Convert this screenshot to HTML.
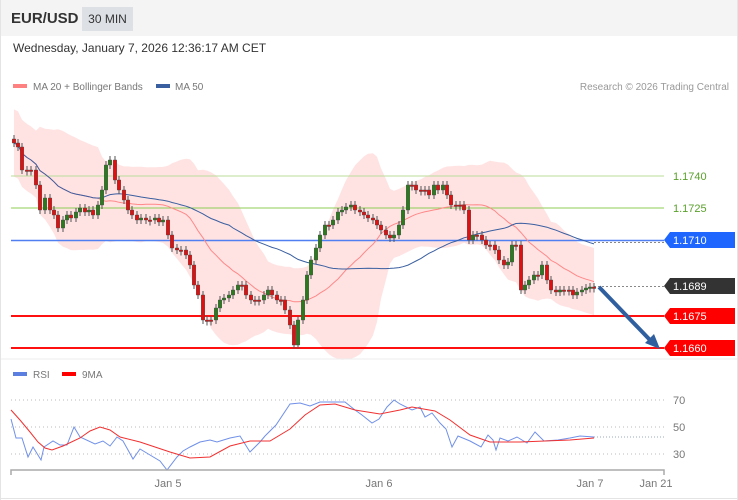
<!DOCTYPE html>
<html><head><meta charset="utf-8"><style>
body{margin:0;width:738px;height:500px;background:#fff;font-family:"Liberation Sans",sans-serif;overflow:hidden;position:relative}
#hdr{position:absolute;left:0;top:0;width:738px;height:36px;background:#f4f4f4}
.t{position:absolute;white-space:nowrap}
</style></head><body>
<div id="hdr"></div>
<div class="t" style="left:11px;top:10px;font-size:15px;font-weight:bold;color:#333">EUR/USD</div>
<div class="t" style="left:82px;top:7px;width:51px;height:24px;background:#dde0e5;font-size:12px;color:#333;line-height:24px;text-align:center">30 MIN</div>
<div class="t" style="left:13px;top:41px;font-size:12px;color:#333">Wednesday, January 7, 2026 12:36:17 AM CET</div>
<svg id="s" width="738" height="500" style="position:absolute;left:0;top:0"></svg>
<script>
const S=document.getElementById('s');let h='';
const pts=[[14,143],[18,147],[22,170],[27,170],[31,170],[36,185],[40,210],[45,198],[50,210],[54,215],[58,228],[63,220],[67,215],[71,218],[76,212],[80,208],[85,212],[89,210],[93,215],[98,205],[102,190],[106,165],[110,160],[115,180],[119,190],[124,200],[128,210],[132,215],[137,220],[141,218],[146,220],[150,220],[155,218],[159,222],[163,220],[168,235],[172,248],[177,250],[181,250],[186,255],[190,265],[194,285],[198,295],[203,320],[207,320],[211,320],[216,308],[220,300],[224,298],[229,295],[233,290],[238,285],[242,285],[246,295],[251,300],[255,300],[259,300],[264,295],[268,290],[272,295],[277,300],[281,300],[285,310],[290,325],[294,345],[298,320],[303,300],[307,275],[311,260],[316,248],[320,235],[325,225],[329,225],[333,220],[338,212],[342,210],[346,207],[351,205],[355,210],[360,212],[364,215],[368,218],[373,220],[377,225],[381,230],[386,235],[390,238],[394,235],[399,225],[403,210],[408,185],[412,185],[416,190],[421,190],[425,190],[429,195],[434,185],[438,190],[443,185],[447,195],[451,205],[456,205],[460,205],[464,210],[469,240],[473,235],[477,235],[482,240],[486,245],[490,245],[495,250],[499,260],[504,265],[508,262],[512,245],[516,245],[521,290],[525,285],[529,280],[534,275],[538,275],[542,265],[547,280],[551,290],[556,292],[560,290],[564,290],[569,290],[573,295],[577,292],[582,290],[586,288],[590,287],[594,287]];
const n=pts.length;const cl=pts.map(p=>p[1]);
function sma(k){return cl.map((_,i)=>{let a=Math.max(0,i-k+1),s=0;for(let j=a;j<=i;j++)s+=cl[j];return s/(i-a+1)})}
const m20=sma(20),m50=sma(50);
let up=[],lo=[];
for(let i=0;i<n;i++){let a=Math.max(0,i-19),v=0,c=0;for(let j=a;j<=i;j++){v+=(cl[j]-m20[i])**2;c++}let sd=Math.max(Math.sqrt(v/c),16);if(i<8)sd=Math.max(sd,16+(8-i)*0);up.push(m20[i]-2.1*sd);lo.push(m20[i]+2.1*sd)}
for(let i=0;i<n;i++){if(up[i]<98)up[i]=98+(i<3?(3-i)*6:0)}
let band='M'+pts.map((p,i)=>p[0]+','+up[i].toFixed(1)).join('L')+'L'+pts.map((p,i)=>p[0]+','+lo[i].toFixed(1)).reverse().join('L')+'Z';
h+=`<path d="${band}" fill="#ffe3e3"/>`;
h+=`<line x1="11" x2="664" y1="176" y2="176" stroke="#b9dd99" stroke-width="1"/><line x1="11" x2="664" y1="208" y2="208" stroke="#8ccc55" stroke-width="1"/><line x1="11" x2="664" y1="240.5" y2="240.5" stroke="#4f7ff0" stroke-width="1.5"/><line x1="11" x2="664" y1="316" y2="316" stroke="#ff1010" stroke-width="2"/><line x1="11" x2="664" y1="348" y2="348" stroke="#ff1010" stroke-width="2"/>`;
h+=`<line x1="594" x2="664" y1="286.5" y2="286.5" stroke="#888" stroke-dasharray="2,2"/><line x1="594" x2="664" y1="242.5" y2="242.5" stroke="#888" stroke-dasharray="2,2"/>`;
h+=`<polyline points="${pts.map((p,i)=>p[0]+','+m20[i].toFixed(1)).join(' ')}" fill="none" stroke="#f88" stroke-width="1"/>`;
h+=`<polyline points="${pts.map((p,i)=>p[0]+','+m50[i].toFixed(1)).join(' ')}" fill="none" stroke="#3a5fa0" stroke-width="1"/>`;
for(let i=0;i<n;i++){let x=pts[i][0],c=cl[i],o=i?cl[i-1]:c-4;let t=Math.min(o,c),b=Math.max(o,c);if(b-t<1.5){b=t+1.5}
h+=`<line x1="${x}" x2="${x}" y1="${t-4}" y2="${b+4}" stroke="#555" stroke-width="1"/>`;
h+=`<rect x="${x-1.7}" y="${t}" width="3.4" height="${b-t}" fill="${c<o?'#2a7a1e':'#e01010'}" stroke="#444" stroke-width="0.4"/>`}
h+=`<line x1="599" y1="287" x2="650" y2="340" stroke="#2f5f9f" stroke-width="4"/><polygon points="660,349 645,343 654,334" fill="#2f5f9f"/>`;
function tag(y,bg,txt,col){h+=`<polygon points="664,${y} 670,${y-8} 735,${y-8} 735,${y+8} 670,${y+8}" fill="${bg}"/><text x="673" y="${y+4}" font-size="11" fill="${col}">${txt}</text>`}
h+=`<text x="673" y="180" font-size="11" fill="#5aa02c">1.1740</text><text x="673" y="212" font-size="11" fill="#5aa02c">1.1725</text>`;
tag(240,'#1f66ff','1.1710','#fff');tag(286,'#333','1.1689','#fff');tag(316,'#ff0000','1.1675','#fff');tag(348,'#ff0000','1.1660','#fff');
h+=`<rect x="13" y="84" width="14" height="4" fill="#ff8080"/><text x="33" y="90" font-size="10" fill="#777">MA 20 + Bollinger Bands</text><rect x="156" y="84" width="14" height="4" fill="#3a5fa0"/><text x="175" y="90" font-size="10" fill="#777">MA 50</text><text x="729" y="90" font-size="10" fill="#999" text-anchor="end">Research © 2026 Trading Central</text>`;
h+=`<line x1="0" x2="738" y1="359" y2="359" stroke="#eee"/>`;
h+=`<rect x="13" y="372" width="14" height="4" fill="#5a7fe0"/><text x="33" y="378" font-size="10" fill="#777">RSI</text><rect x="62" y="372" width="14" height="4" fill="#f00"/><text x="82" y="378" font-size="10" fill="#777">9MA</text>`;
for(const [y,l] of [[400,'70'],[427,'50'],[454,'30']]){h+=`<line x1="11" x2="664" y1="${y}" y2="${y}" stroke="#bbb" stroke-dasharray="1,3"/><text x="673" y="${y+4}" font-size="11" fill="#777">${l}</text>`}
const rsi=[[11,419],[16,438],[22,438],[28,457],[33,447],[41,460],[44,447],[53,441],[60,445],[67,445],[74,427],[80,437],[95,444],[103,441],[110,446],[117,437],[123,441],[133,459],[140,449],[150,455],[160,461],[167,470],[177,457],[183,451],[190,447],[200,442],[210,440],[217,442],[230,438],[240,436],[250,452],[260,442],[265,436],[276,425],[290,404],[300,403],[310,406],[320,402],[330,402],[345,402],[355,410],[362,415],[372,423],[379,419],[387,407],[394,400],[400,404],[412,410],[420,407],[425,417],[432,413],[440,423],[446,429],[452,447],[458,436],[470,441],[481,447],[488,435],[493,440],[496,450],[500,438],[508,441],[517,437],[527,443],[535,432],[544,441],[558,440],[570,438],[580,436],[594,437]];
const ma=[[11,410],[20,420],[30,432],[38,442],[45,448],[52,450],[63,446],[80,438],[90,431],[100,427],[110,430],[120,437],[140,442],[170,452],[190,458],[210,457],[230,446],[250,441],[270,441],[290,429],[305,415],[320,405],[335,404],[355,410],[380,414],[400,410],[412,407],[435,411],[450,420],[470,435],[490,442],[520,442],[570,440],[594,438]];
h+=`<line x1="594" x2="664" y1="437" y2="437" stroke="#9ab" stroke-dasharray="1,2"/>`;
h+=`<polyline points="${rsi.join(' ')}" fill="none" stroke="#7090e8" stroke-width="1"/><polyline points="${ma.join(' ')}" fill="none" stroke="#f03030" stroke-width="1"/>`;
h+=`<path d="M11,475V470H664V475" fill="none" stroke="#aaa" stroke-width="1.5"/>`;
for(const [x,l] of [[168,'Jan 5'],[379,'Jan 6'],[590,'Jan 7'],[656,'Jan 21']])h+=`<text x="${x}" y="487" font-size="11" fill="#777" text-anchor="middle">${l}</text>`;
h+=`<line x1="0" x2="738" y1="498.5" y2="498.5" stroke="#e4e4e4"/><line x1="737.5" x2="737.5" y1="0" y2="500" stroke="#e4e4e4"/><line x1="0.5" x2="0.5" y1="0" y2="500" stroke="#e4e4e4"/>`;
S.innerHTML=h;
</script>
</body></html>
